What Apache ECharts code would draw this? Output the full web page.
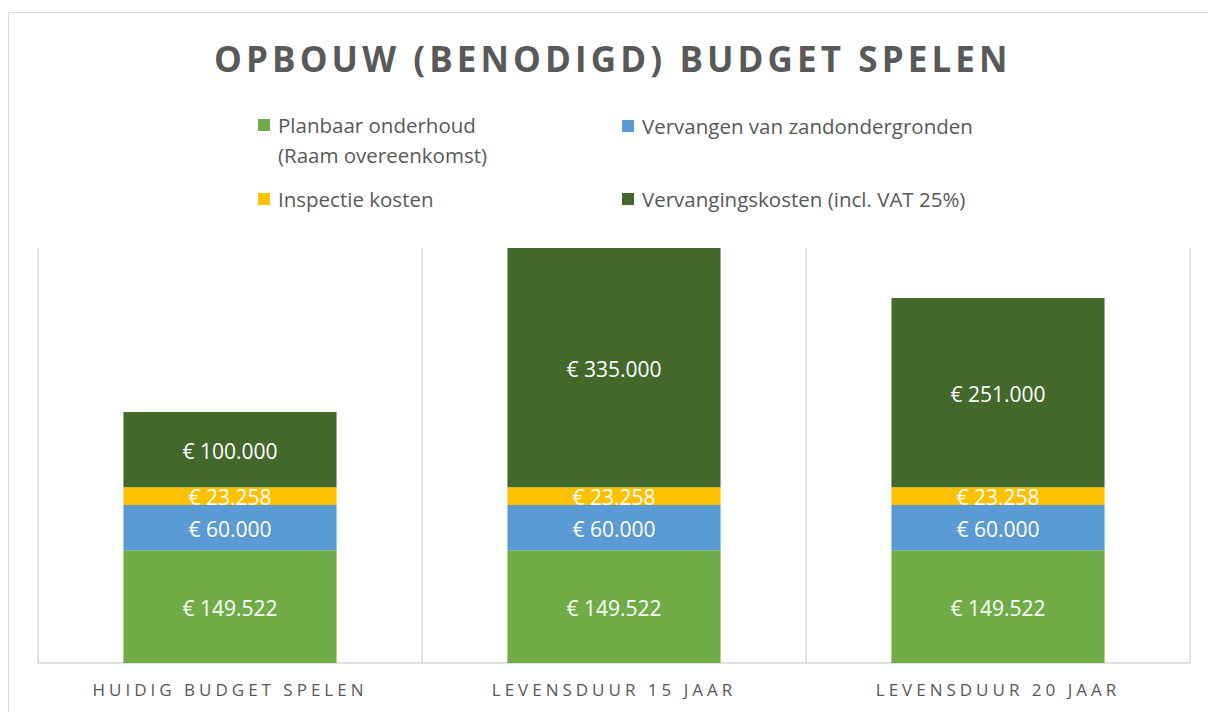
<!DOCTYPE html>
<html>
<head>
<meta charset="utf-8">
<script src="https://cdn.jsdelivr.net/npm/echarts@6/dist/echarts.min.js"></script>
<style>
html,body{margin:0;padding:0;background:#fff;}
#chart{width:1208px;height:712px;}
#chart text[style*="35px"]{letter-spacing:4.1px;}
#chart text[style*="17px"]{letter-spacing:4px;}
</style>
</head>
<body>
<div id="chart"></div>
<script>
const categories = ['HUIDIG BUDGET SPELEN', 'LEVENSDUUR 15 JAAR', 'LEVENSDUUR 20 JAAR'];
const seriesNames = ['Planbaar onderhoud (Raam overeenkomst)', 'Vervangen van zandondergronden', 'Inspectie kosten', 'Vervangingskosten (incl. VAT 25%)'];
const planbaarOnderhoud = [149522, 149522, 149522];
const vervangenZandondergronden = [60000, 60000, 60000];
const inspectieKosten = [23258, 23258, 23258];
const vervangingskosten = [100000, 335000, 251000];
const colors = ['#70AD47', '#5B9BD5', '#FFC000', '#43682B'];

function fmt(v) {
  const s = String(Math.round(v));
  return '€ ' + s.replace(/\B(?=(\d{3})+(?!\d))/g, '.');
}

const values = [planbaarOnderhoud, vervangenZandondergronden, inspectieKosten, vervangingskosten];
const chart = echarts.init(document.getElementById('chart'), null, {renderer: 'svg'});

const legendPos = [
  {left: 258, top: 80},
  {left: 622, top: 111},
  {left: 258, top: 184},
  {left: 622, top: 184}
];

const legends = seriesNames.map((n, i) => ({
  data: [n],
  left: legendPos[i].left,
  top: legendPos[i].top,
  padding: 0,
  icon: 'rect',
  itemWidth: 12,
  itemHeight: 12,
  selectedMode: false,
  formatter: function (name) {
    if (i === 0) return '\nPlanbaar onderhoud\n(Raam overeenkomst)';
    return name;
  },
  textStyle: {
    fontFamily: 'Open Sans',
    fontSize: 20.5,
    color: '#595959',
    lineHeight: 30,
    padding: [0, 0, 0, 3]
  }
}));

chart.setOption({
  animation: false,
  backgroundColor: '#fff',
  graphic: [{
    type: 'rect',
    shape: {x: 8.5, y: 12.5, width: 1400, height: 900},
    style: {fill: 'none', stroke: '#d9d9d9', lineWidth: 1},
    z: -1
  }],
  title: {
    text: 'OPBOUW (BENODIGD) BUDGET SPELEN',
    left: 214,
    top: 41,
    padding: 0,
    textStyle: {
      fontFamily: 'Open Sans',
      fontWeight: 'bold',
      fontSize: 35,
      color: '#595959'
    }
  },
  legend: legends,
  grid: {left: 38, right: 18, top: 248, bottom: 49, containLabel: false},
  xAxis: {
    type: 'category',
    data: categories,
    axisLine: {lineStyle: {color: '#d9d9d9', width: 1.5}},
    axisTick: {show: false},
    splitLine: {show: true, lineStyle: {color: '#d9d9d9', width: 1.5}},
    axisLabel: {
      margin: 18,
      fontFamily: 'Open Sans',
      fontSize: 17,
      color: '#595959'
    }
  },
  yAxis: {
    type: 'value',
    min: 0,
    max: 550000,
    show: false,
    splitLine: {show: false}
  },
  series: values.map((arr, i) => ({
    name: seriesNames[i],
    type: 'bar',
    stack: 'total',
    barWidth: '55.5%',
    data: arr,
    itemStyle: {color: colors[i]},
    label: {
      show: true,
      position: 'inside',
      offset: [0, 1],
      color: '#fff',
      fontFamily: 'Open Sans',
      fontSize: 21,
      formatter: p => fmt(p.value)
    }
  }))
});
</script>
</body>
</html>
